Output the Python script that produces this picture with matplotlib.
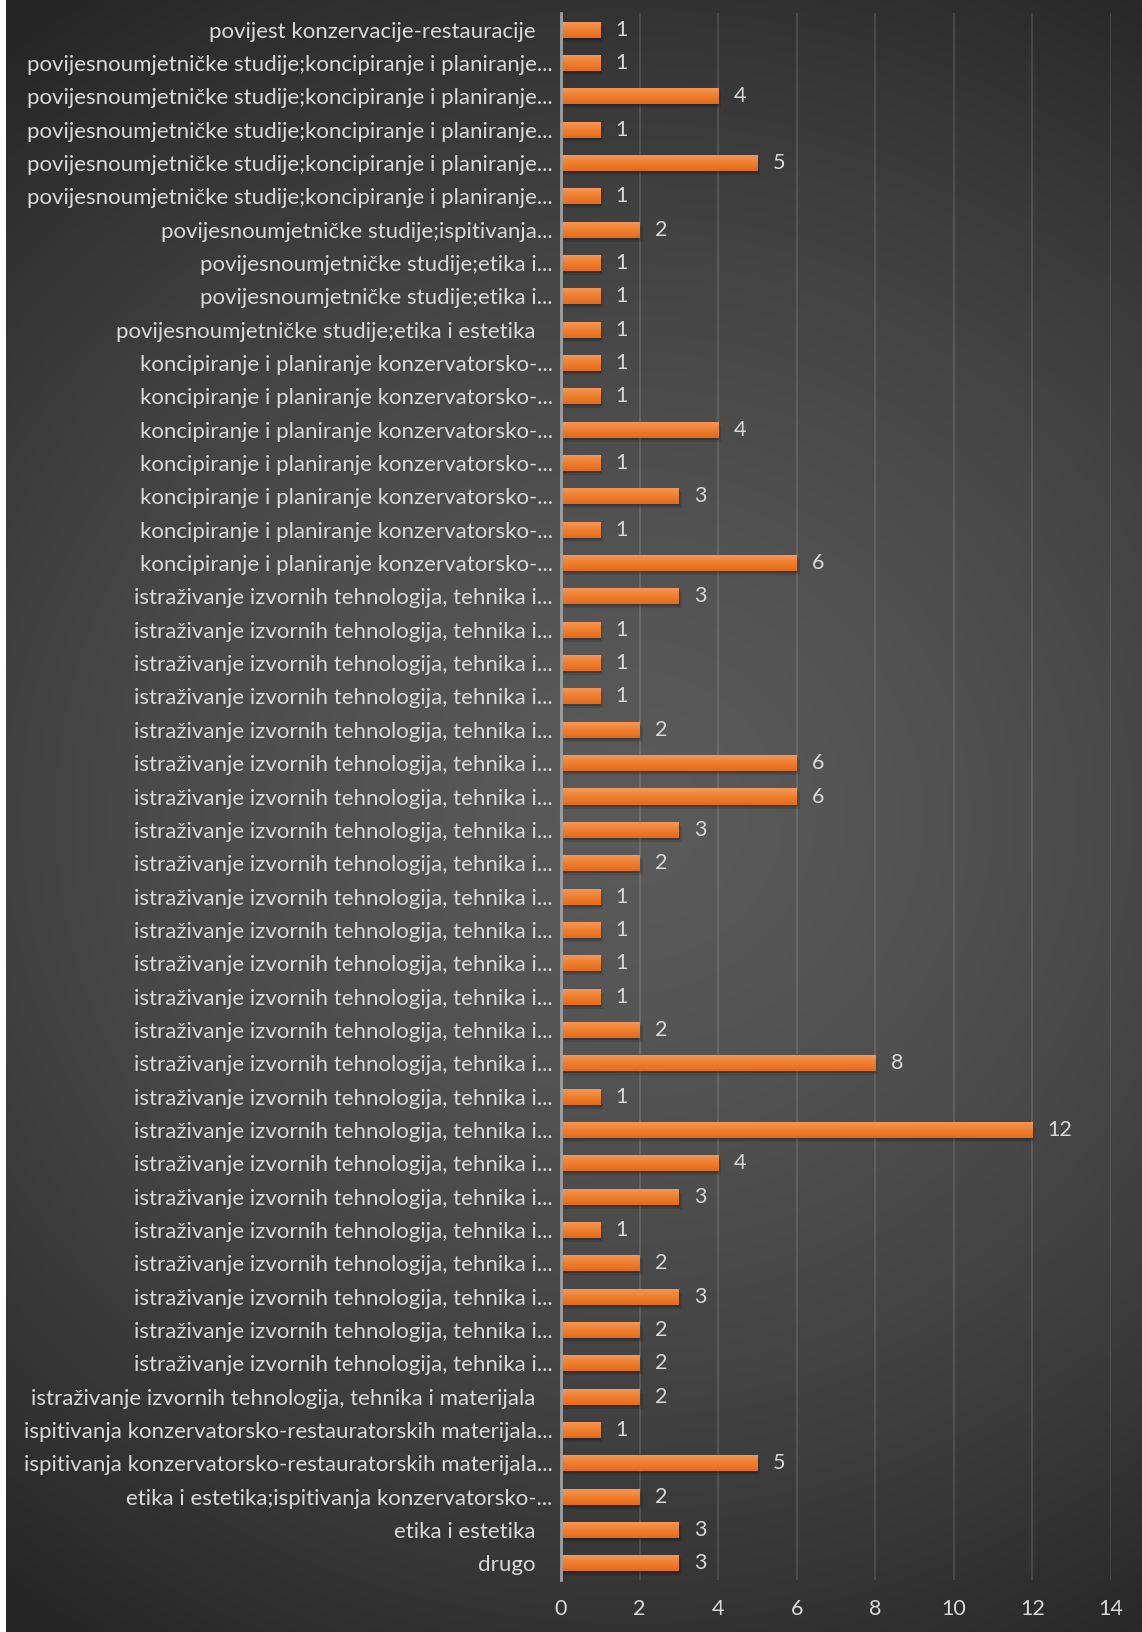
import numpy as np
import matplotlib
matplotlib.use("Agg")
import matplotlib.pyplot as plt
import matplotlib.transforms as mtransforms
from matplotlib.colors import LinearSegmentedColormap

plt.rcParams['font.family'] = ['Lato', 'DejaVu Sans']

PK = "povijesnoumjetničke studije;koncipiranje i planiranje..."
KP = "koncipiranje i planiranje konzervatorsko-..."
IT = "istraživanje izvornih tehnologija, tehnika i..."
IK = "ispitivanja konzervatorsko-restauratorskih materijala..."

# top to bottom, as in the chart
categories = [
    "povijest konzervacije-restauracije   ",
    PK, PK, PK, PK, PK,
    "povijesnoumjetničke studije;ispitivanja...",
    "povijesnoumjetničke studije;etika i...",
    "povijesnoumjetničke studije;etika i...",
    "povijesnoumjetničke studije;etika i estetika   ",
    KP, KP, KP, KP, KP, KP, KP,
    IT, IT, IT, IT, IT, IT, IT, IT, IT, IT, IT, IT,
    IT, IT, IT, IT, IT, IT, IT, IT, IT, IT, IT, IT,
    "istraživanje izvornih tehnologija, tehnika i materijala   ",
    IK, IK,
    "etika i estetika;ispitivanja konzervatorsko-...",
    "etika i estetika   ",
    "drugo   ",
]
values = [1, 1, 4, 1, 5, 1, 2, 1, 1, 1,
          1, 1, 4, 1, 3, 1, 6,
          3, 1, 1, 1, 2, 6, 6, 3, 2, 1, 1, 1, 1, 2, 8, 1, 12, 4, 3, 1, 2, 3, 2, 2, 2,
          1, 5, 2, 3, 3]
xticks = [0, 2, 4, 6, 8, 10, 12, 14]

W, H = 1142, 1632
fig = plt.figure(figsize=(W / 100, H / 100), dpi=100)
fig.patch.set_facecolor('white')

# radial dark background
bg = fig.add_axes([6 / W, 0, 1 - 6 / W, 1])
gx, gy = np.meshgrid(np.linspace(0, 1, 400), np.linspace(0, 1, 560))
d = np.sqrt(((gx - 0.55) / 0.9) ** 2 + ((gy - 0.5) / 0.6) ** 2)
t = np.clip(d, 0, 1) ** 1.5
c0, c1 = np.array([0x5a, 0x5a, 0x5a]) / 255, np.array([0x26, 0x26, 0x26]) / 255
img = c0[None, None, :] * (1 - t[..., None]) + c1[None, None, :] * t[..., None]
bg.imshow(img, aspect='auto', extent=[0, 1, 0, 1])
bg.axis('off')

ax = fig.add_axes([561 / W, 1 - 1580 / H, (1111 - 561) / W, (1580 - 13) / H])
ax.set_facecolor('none')

n = len(values)
y = np.arange(n)
bh = 0.48

# soft shadow
for dx, dy, a in [(1, -2, 0.18), (3, -4, 0.12)]:
    tr = mtransforms.offset_copy(ax.transData, fig=fig, x=dx, y=dy, units='dots')
    ax.barh(y, values, height=bh, color='black', alpha=a, transform=tr, zorder=2)

bars = ax.barh(y, values, height=bh, color='#EC7A2C', zorder=3)
cmap = LinearSegmentedColormap.from_list('bar', ['#F49A5E', '#EF802F', '#E46B1B'])
grad = np.linspace(0, 1, 64).reshape(-1, 1)
for b in bars:
    x0, y0, w, h = b.get_x(), b.get_y(), b.get_width(), b.get_height()
    im = ax.imshow(grad, cmap=cmap, extent=[x0, x0 + w, y0, y0 + h], origin='lower',
                   aspect='auto', zorder=4)
    im.set_clip_path(b)

for yi, v in zip(y, values):
    ax.annotate(str(v), (v, yi), xytext=(11, 0), textcoords='offset points',
                va='center', ha='left', color='#D9D9D9', fontsize=15.5)

ax.set_xlim(0, 14)
ax.set_ylim(n - 0.5, -0.5)
ax.set_xticks(xticks)
ax.set_yticks(y)
ax.set_yticklabels(categories)
ax.tick_params(axis='both', length=0, colors='#D9D9D9', labelsize=16)
ax.tick_params(axis='x', labelsize=15.5, pad=14)
ax.tick_params(axis='y', pad=6)
ax.xaxis.grid(True, color='#ffffff', alpha=0.13, lw=1.3)
ax.set_axisbelow(True)
for s in ['top', 'right', 'bottom']:
    ax.spines[s].set_visible(False)
ax.spines['left'].set_color('#A0A0A0')
ax.spines['left'].set_linewidth(2)
ax.spines['left'].set_zorder(5)

fig.savefig('out.png', dpi=100)
